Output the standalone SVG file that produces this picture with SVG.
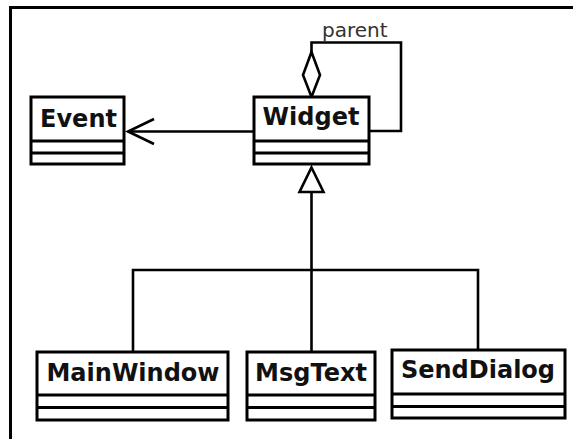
<svg xmlns="http://www.w3.org/2000/svg" width="573" height="439" viewBox="0 0 573 439">
<style>
.box{fill:#fff;stroke:#000;stroke-width:3}
.div{stroke:#000;stroke-width:3}
.name{font-family:"DejaVu Sans",sans-serif;font-weight:bold;font-size:24px;fill:#111;text-anchor:middle}
.ln{fill:none;stroke:#000;stroke-width:2.6}
.lbl{font-family:"DejaVu Sans",sans-serif;font-size:20px;fill:#333}
</style>
<rect width="573" height="439" fill="#fff"/>
<path d="M10.5 439V7.5H573" fill="none" stroke="#000" stroke-width="3"/>
<g id="connectors">
<path class="ln" d="M254 131.5H128"/>
<path class="ln" d="M154 119L128 131.5L154 144"/>
<path class="ln" d="M369 131H401V42.5H311.5V52"/>
<path class="ln" d="M311.5 52L303 75L311.5 97L320 75Z" fill="#fff"/>
<path class="ln" d="M311.5 167.5L323.5 192H299.5Z" fill="#fff"/>
<path class="ln" d="M311.5 192V270M133 352V270H478V350M311.5 270V352"/>
<text class="lbl" x="322" y="36.5">parent</text>
</g>
<g id="Event">
<rect class="box" x="31" y="97" width="93" height="67"/>
<path class="div" d="M31 141H124M31 153H124"/>
<text class="name" x="78.5" y="127">Event</text>
</g>
<g id="Widget">
<rect class="box" x="254" y="97" width="115" height="67"/>
<path class="div" d="M254 141H369M254 153H369"/>
<text class="name" x="311" y="125">Widget</text>
</g>
<g id="MainWindow">
<rect class="box" x="37" y="352" width="191" height="68"/>
<path class="div" d="M37 395H228M37 407.5H228"/>
<text class="name" x="133" y="381">MainWindow</text>
</g>
<g id="MsgText">
<rect class="box" x="247" y="352" width="128" height="68"/>
<path class="div" d="M247 395H375M247 407.5H375"/>
<text class="name" x="311" y="381">MsgText</text>
</g>
<g id="SendDialog">
<rect class="box" x="392" y="350" width="173" height="68"/>
<path class="div" d="M392 394H565M392 406.5H565"/>
<text class="name" x="478" y="378">SendDialog</text>
</g>
</svg>
